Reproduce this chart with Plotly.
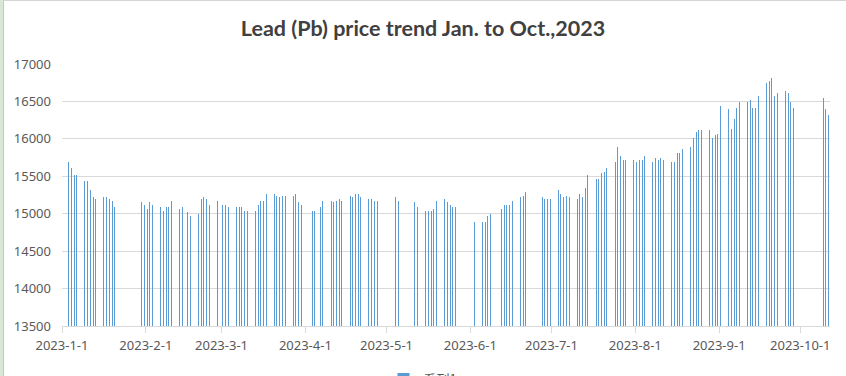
import plotly.graph_objects as go

# ---- data -------------------------------------------------------------
dates = [
    "2023-01-03", "2023-01-04", "2023-01-05", "2023-01-06",
    "2023-01-09", "2023-01-10", "2023-01-11", "2023-01-12", "2023-01-13",
    "2023-01-16", "2023-01-17", "2023-01-18", "2023-01-19", "2023-01-20",
    "2023-01-30", "2023-01-31", "2023-02-01", "2023-02-02", "2023-02-03",
    "2023-02-06", "2023-02-07", "2023-02-08", "2023-02-09", "2023-02-10",
    "2023-02-13", "2023-02-14", "2023-02-16", "2023-02-17",
    "2023-02-20", "2023-02-21", "2023-02-22", "2023-02-23", "2023-02-24",
    "2023-02-27", "2023-03-01", "2023-03-02", "2023-03-03",
    "2023-03-06", "2023-03-07", "2023-03-08", "2023-03-09", "2023-03-10",
    "2023-03-13", "2023-03-14", "2023-03-15", "2023-03-16", "2023-03-17",
    "2023-03-20", "2023-03-21", "2023-03-22", "2023-03-23", "2023-03-24",
    "2023-03-27", "2023-03-28", "2023-03-29", "2023-03-30",
    "2023-04-03", "2023-04-04", "2023-04-06", "2023-04-07",
    "2023-04-10", "2023-04-11", "2023-04-12", "2023-04-13", "2023-04-14",
    "2023-04-17", "2023-04-18", "2023-04-19", "2023-04-20", "2023-04-21",
    "2023-04-24", "2023-04-25", "2023-04-26", "2023-04-27",
    "2023-05-04", "2023-05-05",
    "2023-05-11", "2023-05-12",
    "2023-05-15", "2023-05-16", "2023-05-17", "2023-05-18", "2023-05-19",
    "2023-05-22", "2023-05-23", "2023-05-24", "2023-05-25", "2023-05-26",
    "2023-06-02",
    "2023-06-05", "2023-06-06", "2023-06-07", "2023-06-08",
    "2023-06-12", "2023-06-13", "2023-06-14", "2023-06-15", "2023-06-16",
    "2023-06-19", "2023-06-20", "2023-06-21",
    "2023-06-27", "2023-06-28", "2023-06-29", "2023-06-30",
    "2023-07-03", "2023-07-04", "2023-07-05", "2023-07-06", "2023-07-07",
    "2023-07-10", "2023-07-11", "2023-07-12", "2023-07-13", "2023-07-14",
    "2023-07-17", "2023-07-18", "2023-07-19", "2023-07-20", "2023-07-21",
    "2023-07-24", "2023-07-25", "2023-07-26", "2023-07-27", "2023-07-28",
    "2023-07-31", "2023-08-01", "2023-08-02", "2023-08-03", "2023-08-04",
    "2023-08-07", "2023-08-08", "2023-08-09", "2023-08-10", "2023-08-11",
    "2023-08-14", "2023-08-15", "2023-08-16", "2023-08-17", "2023-08-18",
    "2023-08-21", "2023-08-22", "2023-08-23", "2023-08-24", "2023-08-25",
    "2023-08-28", "2023-08-29", "2023-08-30", "2023-08-31", "2023-09-01",
    "2023-09-04", "2023-09-05", "2023-09-06", "2023-09-07", "2023-09-08",
    "2023-09-11", "2023-09-12", "2023-09-13", "2023-09-14", "2023-09-15",
    "2023-09-18", "2023-09-19", "2023-09-20", "2023-09-21", "2023-09-22",
    "2023-09-25", "2023-09-26", "2023-09-27", "2023-09-28",
    "2023-10-09", "2023-10-10", "2023-10-11",
]

prices = [
    15695, 15615, 15520, 15520,
    15440, 15440, 15320, 15230, 15200,
    15230, 15230, 15200, 15175, 15095,
    15150, 15120, 15065, 15150, 15120,
    15095, 15040, 15095, 15095, 15175,
    15065, 15095, 15025, 14975,
    15000, 15200, 15230, 15200, 15120,
    15175, 15120, 15120, 15095,
    15095, 15095, 15095, 15040, 15040,
    15040, 15120, 15175, 15175, 15270,
    15270, 15240, 15230, 15240, 15240,
    15240, 15270, 15150, 15120,
    15040, 15040, 15095, 15175,
    15175, 15150, 15175, 15200, 15175,
    15240, 15230, 15270, 15270, 15230,
    15200, 15200, 15175, 15175,
    15230, 15175,
    15150, 15095,
    15040, 15040, 15040, 15065, 15175,
    15200, 15150, 15120, 15095, 15095,
    14895,
    14895, 14895, 14975, 15000,
    15065, 15120, 15120, 15120, 15175,
    15230, 15240, 15295,
    15230, 15200, 15200, 15200,
    15320, 15270, 15230, 15240, 15230,
    15200, 15270, 15230, 15350, 15520,
    15470, 15470, 15550, 15560, 15615,
    15695, 15895, 15775, 15720, 15720,
    15720, 15695, 15720, 15720, 15775,
    15695, 15750, 15720, 15750, 15720,
    15695, 15695, 15815, 15815, 15870,
    15895, 16005, 16095, 16125, 16125,
    16125, 16015, 16045, 16070, 16445,
    16405, 16135, 16270, 16415, 16495,
    16495, 16525, 16415, 16415, 16575,
    16750, 16775, 16815, 16575, 16615,
    16645, 16615, 16495, 16415,
    16550, 16405, 16325,
]

series_name = "系列1"
title_text = "Lead (Pb) price trend Jan. to Oct.,2023"
x_range = ["2023-01-01", "2023-10-12"]
y_range = [13500, 17000]
y_ticks = [13500, 14000, 14500, 15000, 15500, 16000, 16500, 17000]

# ---- layout constants -------------------------------------------------
W, H = 846, 376
ML, MR, MT, MB = 62, 16, 64, 50
PW, PH = W - ML - MR, H - MT - MB
DAY_MS = 86400000
SPAN_DAYS = 284
MS_PER_PX = SPAN_DAYS * DAY_MS / PW


def px_x(p):
    return (p - ML) / PW


def px_y(p):
    return (H - MB - p) / PH


fig = go.Figure()
fig.add_trace(go.Bar(
    x=dates,
    y=prices,
    name=series_name,
    marker=dict(color="rgba(91,155,213,0.999)", line=dict(width=0)),
    width=1.0 * MS_PER_PX,
    xperiod=DAY_MS,
    xperiodalignment="middle",
    showlegend=True,
))

tick_font = dict(family="Noto Sans", size=13, color="#595959")

fig.update_layout(
    width=W,
    height=H,
    margin=dict(l=ML, r=MR, t=MT, b=MB, autoexpand=False),
    paper_bgcolor="white",
    plot_bgcolor="white",
    title=dict(
        text=title_text,
        x=0.5,
        xanchor="center",
        y=1 - 28 / H,
        yanchor="middle",
        font=dict(family="Lato", size=21.5, color="#404040", weight="bold"),
    ),
    xaxis=dict(
        type="date",
        range=x_range,
        tick0="2023-01-01",
        dtick="M1",
        tickformat="%Y-%-m-%-d",
        ticks="outside",
        ticklen=6,
        tickcolor="#d9d9d9",
        tickwidth=1,
        showline=True,
        linecolor="#d9d9d9",
        linewidth=1,
        showgrid=False,
        zeroline=False,
        tickfont=tick_font,
        ticklabelstandoff=1,
        fixedrange=True,
    ),
    yaxis=dict(
        range=y_range,
        tickvals=y_ticks,
        ticktext=[str(v) for v in y_ticks],
        showgrid=True,
        gridcolor="#d9d9d9",
        gridwidth=1,
        showline=False,
        zeroline=False,
        ticks="",
        tickfont=tick_font,
        ticklabelstandoff=10,
        fixedrange=True,
    ),
    legend=dict(
        orientation="h",
        xref="container",
        x=0.5,
        xanchor="center",
        y=px_y(364),
        yanchor="top",
        font=dict(family="Noto Sans CJK SC", size=13, color="#595959"),
        bgcolor="rgba(0,0,0,0)",
    ),
    bargap=0,
    bargroupgap=0,
    showlegend=True,
    shapes=[
        # screenshot frame: green strip at left, grey rule at top
        dict(type="rect", xref="paper", yref="paper",
             x0=px_x(0), x1=px_x(3), y0=px_y(H), y1=px_y(0),
             fillcolor="#d7e9d5", line=dict(width=0), layer="above"),
        dict(type="line", xref="paper", yref="paper",
             x0=px_x(3.5), x1=px_x(3.5), y0=px_y(H), y1=px_y(0),
             line=dict(color="#c6c6c6", width=1), layer="above"),
        dict(type="line", xref="paper", yref="paper",
             x0=px_x(3), x1=px_x(W), y0=px_y(0.5), y1=px_y(0.5),
             line=dict(color="#d4d4d4", width=1), layer="above"),
    ],
)

fig.write_html(
    "out.html",
    config={"displayModeBar": False, "staticPlot": False},
    post_script="document.body.style.margin='0';document.body.style.overflow='hidden';",
)
